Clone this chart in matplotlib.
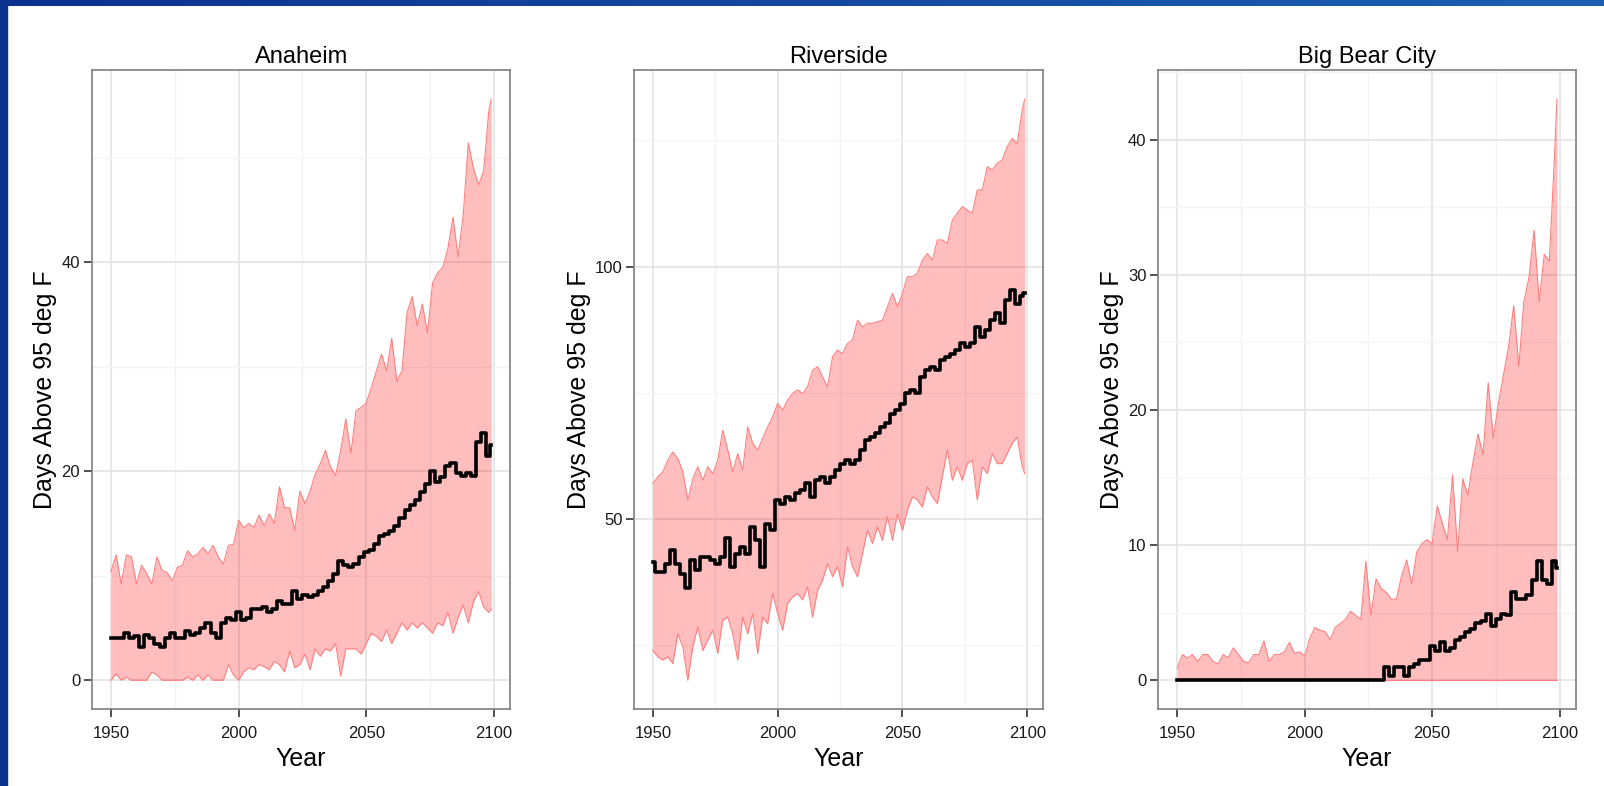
import numpy as np
import matplotlib.pyplot as plt
from matplotlib.colors import LinearSegmentedColormap
from matplotlib.patches import Rectangle

plt.rcParams['font.family'] = ['Liberation Sans', 'DejaVu Sans']

# Years sampled every 2 years (plus the last one)
years = list(range(1950, 2100, 2)) + [2099]

# Anaheim
anaheim_hi = [10.4, 12.0, 9.2, 12.0, 11.8, 9.2, 11.0, 10.2, 9.2, 11.8,
              10.5, 10.3, 9.5, 10.8, 11.0, 12.4, 11.8, 12.1, 12.7, 12.1,
              12.9, 11.8, 11.1, 12.9, 13.0, 15.3, 14.6, 15.0, 14.6, 15.8,
              14.8, 15.9, 15.0, 18.5, 16.5, 16.5, 14.3, 18.1, 16.9, 18.1,
              19.7, 20.7, 22.0, 20.4, 19.6, 22.0, 25.0, 21.7, 25.8, 26.1,
              26.5, 28.0, 29.6, 31.2, 29.6, 32.7, 28.6, 29.6, 35.2, 36.7,
              33.9, 36.0, 33.2, 38.0, 39.0, 39.5, 41.3, 44.3, 40.5, 44.5,
              51.4, 49.0, 47.4, 48.7, 54.4, 55.6]
anaheim_lo = [0, 0.6, 0, 0.3, 0, 0, 0, 0, 0.8, 0.5,
              0, 0, 0, 0, 0, 0.3, 0, 0.5, 0, 0.5,
              0, 0, 0, 1.5, 0.5, 0, 0.8, 1.2, 1.0, 1.5,
              1.3, 1.0, 1.8, 1.5, 0.8, 2.8, 1.2, 1.5, 2.5, 1.0,
              3.0, 2.3, 3.0, 2.8, 3.5, 0.4, 3.0, 3.0, 3.0, 2.5,
              3.5, 4.5, 4.2, 3.7, 4.8, 3.5, 4.5, 5.5, 4.8, 5.5,
              5.0, 5.5, 5.0, 4.5, 5.5, 5.2, 6.5, 4.5, 6.0, 7.2,
              5.5, 7.5, 8.5, 7.0, 6.5, 6.8]
anaheim_mid = [4.0, 4.0, 4.0, 4.5, 4.0, 4.2, 3.2, 4.3, 4.0, 3.5,
               3.2, 4.0, 4.5, 4.0, 4.0, 4.7, 4.3, 4.5, 5.0, 5.5,
               4.5, 4.0, 5.5, 6.0, 5.8, 6.5, 5.8, 6.0, 6.8, 6.8,
               7.0, 6.5, 6.8, 7.6, 7.3, 7.3, 8.5, 7.8, 8.2, 8.0,
               8.2, 8.5, 8.9, 9.5, 10.2, 11.4, 11.0, 10.8, 11.1, 11.8,
               12.3, 12.5, 13.0, 13.8, 14.0, 14.3, 14.8, 15.5, 16.3, 16.8,
               17.2, 18.0, 18.8, 20.0, 19.0, 19.4, 20.5, 20.8, 19.8, 19.5,
               19.8, 19.5, 22.8, 23.7, 21.5, 22.5]

# Riverside
riverside_hi = [57.1, 58.4, 59.4, 61.7, 63.3, 62.0, 59.4, 53.8, 58.0, 60.4,
                57.7, 60.4, 59.0, 61.7, 67.6, 63.7, 59.4, 63.0, 59.7, 68.3,
                65.0, 63.7, 66.0, 68.3, 70.3, 72.9, 71.6, 73.6, 74.9, 75.6,
                74.9, 76.2, 79.5, 80.2, 78.2, 76.2, 82.2, 83.5, 82.8, 84.8,
                85.5, 89.4, 88.1, 88.8, 88.8, 89.1, 89.4, 92.1, 94.7, 92.1,
                94.7, 98.0, 98.0, 98.7, 101.3, 102.6, 101.3, 105.3, 105.3, 104.6,
                109.2, 110.6, 111.9, 111.2, 110.6, 115.2, 115.2, 119.8, 119.2, 120.5,
                121.1, 123.8, 125.4, 124.4, 131.0, 133.2]
riverside_lo = [24.0, 22.7, 22.1, 22.7, 21.4, 27.3, 24.7, 18.1, 24.7, 28.7,
                24.0, 26.0, 28.0, 23.4, 30.0, 30.6, 27.3, 22.1, 30.6, 27.3,
                31.3, 23.4, 30.6, 29.3, 35.3, 31.3, 28.0, 33.3, 34.6, 35.3,
                34.0, 36.6, 30.6, 35.9, 37.9, 41.2, 38.6, 40.6, 36.6, 44.5,
                40.6, 38.6, 43.2, 47.8, 45.2, 48.5, 45.8, 50.5, 45.8, 51.1,
                47.8, 51.8, 54.4, 53.8, 52.4, 56.4, 54.4, 53.1, 58.4, 63.7,
                57.7, 60.4, 57.7, 61.0, 61.7, 53.8, 60.4, 59.0, 63.0, 61.0,
                61.0, 63.0, 65.0, 66.3, 60.4, 59.0]
riverside_mid = [41.5, 39.6, 39.6, 41.2, 43.9, 41.2, 39.2, 36.3, 41.9, 39.9,
                 42.5, 42.5, 41.9, 41.2, 42.5, 46.2, 40.6, 43.2, 44.5, 43.2,
                 48.5, 45.8, 40.6, 49.1, 47.8, 53.8, 53.1, 54.4, 53.8, 55.1,
                 55.7, 57.1, 54.4, 57.7, 58.4, 57.1, 58.4, 59.7, 61.0, 61.7,
                 61.0, 61.7, 63.7, 65.7, 66.3, 67.0, 68.3, 69.0, 70.9, 71.6,
                 72.9, 74.9, 75.6, 74.9, 78.2, 79.5, 80.2, 79.5, 81.5, 82.2,
                 82.8, 83.5, 84.8, 84.1, 84.8, 88.1, 86.1, 87.5, 89.4, 90.8,
                 88.8, 93.4, 95.4, 92.7, 94.1, 94.7]

# Big Bear City
bigbear_hi = [0.9, 1.9, 1.65, 1.9, 1.4, 1.9, 1.9, 1.4, 1.2, 1.9,
              1.65, 2.4, 1.9, 1.4, 1.3, 1.9, 1.9, 2.9, 1.4, 1.9,
              1.9, 2.1, 2.8, 2.0, 2.1, 1.8, 3.1, 3.9, 3.7, 3.6,
              3.0, 3.9, 4.2, 4.5, 5.1, 4.8, 4.5, 8.8, 4.8, 7.5,
              6.8, 6.5, 6.0, 6.0, 7.7, 8.9, 7.1, 9.5, 10.1, 10.4,
              10.1, 12.9, 11.6, 10.4, 15.2, 9.5, 14.9, 13.7, 16.1, 18.2,
              16.7, 22.0, 17.9, 20.5, 22.6, 24.7, 27.7, 23.2, 28.0, 29.8,
              33.3, 28.0, 31.5, 31.0, 38.7, 43.0]
bigbear_lo = [0] * 76
bigbear_mid = [0, 0, 0, 0, 0, 0, 0, 0, 0, 0,
               0, 0, 0, 0, 0, 0, 0, 0, 0, 0,
               0, 0, 0, 0, 0, 0, 0, 0, 0, 0,
               0, 0, 0, 0, 0, 0, 0, 0, 0, 0,
               0, 1.0, 0.3, 1.0, 1.0, 0.3, 1.0, 1.2, 1.5, 1.5,
               2.5, 2.2, 2.8, 2.2, 2.4, 3.0, 3.2, 3.6, 3.8, 4.2,
               4.4, 4.9, 4.0, 4.5, 4.9, 4.8, 6.5, 6.0, 6.0, 6.3,
               7.4, 8.8, 7.4, 7.1, 8.8, 8.3]

titles = ['Anaheim', 'Riverside', 'Big Bear City']
major_y = [[0, 20, 40], [50, 100], [0, 10, 20, 30, 40]]
minor_y = [[10, 30, 50], [25, 75, 125], [5, 15, 25, 35, 45]]
lows = [anaheim_lo, riverside_lo, bigbear_lo]
mids = [anaheim_mid, riverside_mid, bigbear_mid]
highs = [anaheim_hi, riverside_hi, bigbear_hi]

W, H = 1604, 786
fig = plt.figure(figsize=(W / 100, H / 100), dpi=100)

# panel boxes in pixels: left, width
boxes = [(92, 418.3), (634.3, 409), (1158.3, 417.7)]
top_px, bottom_px = 70, 709.3

for i, (left, width) in enumerate(boxes):
    ax = fig.add_axes([left / W, (H - bottom_px) / H, width / W,
                       (bottom_px - top_px) / H])
    ax.fill_between(years, lows[i], highs[i], color='#ff0000', alpha=0.26,
                    lw=0, zorder=2)
    ax.plot(years, highs[i], color='#ff7f7f', lw=0.8, zorder=3)
    ax.plot(years, lows[i], color='#ff7f7f', lw=0.8, zorder=3)
    ax.plot(years, mids[i], color='black', lw=2.6, drawstyle='steps-mid',
            zorder=4)

    ax.set_xticks([1950, 2000, 2050, 2100])
    ax.set_xticks([1975, 2025, 2075], minor=True)
    ax.set_yticks(major_y[i])
    ax.set_yticks(minor_y[i], minor=True)
    ax.margins(x=0.05, y=0.05)
    ax.set_xlim(1942.55, 2106.45)

    ax.set_axisbelow(True)
    ax.grid(which='major', color='#e3e3e3', lw=1.2)
    ax.grid(which='minor', color='#f4f4f4', lw=1.0)
    ax.tick_params(which='major', length=5.5, width=1.2, color='#333333',
                   labelsize=12, labelcolor='#1a1a1a')
    ax.tick_params(axis='x', which='major', pad=6.5)
    ax.tick_params(axis='y', which='major', pad=3)
    ax.tick_params(which='minor', length=0)
    for sp in ax.spines.values():
        sp.set_color('#7f7f7f')
        sp.set_linewidth(1.2)

    ax.set_title(titles[i], fontsize=17, pad=5)
    ax.set_xlabel('Year', fontsize=18, labelpad=4)
    ax.set_ylabel('Days Above 95 deg F', fontsize=18, labelpad=3)

# blue slide frame: gradient strip on top, solid strip on the left
bar = fig.add_axes([0, 1 - 6 / H, 1, 6 / H])
grad = np.linspace(0, 1, 256).reshape(1, -1)
edge_cmap = LinearSegmentedColormap.from_list('edge', ['#0c3190', '#1d5fb5'])
bar.imshow(grad, aspect='auto', cmap=edge_cmap, extent=[0, 1, 0, 1])
bar.axis('off')
fig.patches.append(Rectangle((0, 0), 7 / W, 1, transform=fig.transFigure,
                             color='#0c3190', zorder=10))

fig.savefig('out.png', dpi=100)
